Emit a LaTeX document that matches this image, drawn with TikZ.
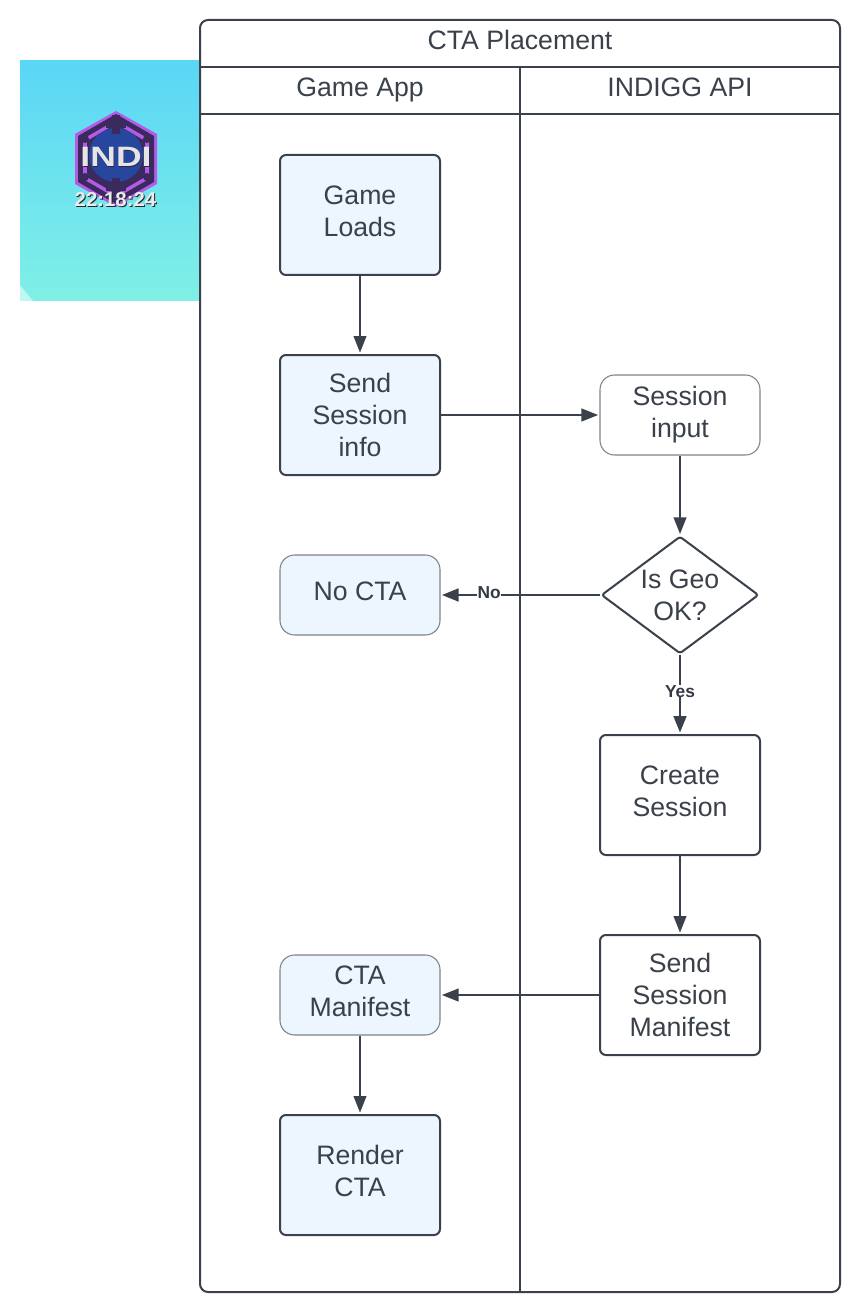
\documentclass[tikz,border=0pt]{standalone}
\usepackage{fontspec}
\setmainfont{Liberation Sans}
\usetikzlibrary{arrows.meta,shapes.geometric}
\definecolor{ink}{HTML}{3A414A}
\definecolor{boxfill}{HTML}{EDF5FF}
\definecolor{bluetop}{HTML}{5AD6F6}
\definecolor{bluebot}{HTML}{80F0E6}
\definecolor{lilac}{HTML}{B45BE8}
\definecolor{hexdark}{HTML}{3A2A5E}
\definecolor{coreblue}{HTML}{27479F}
\tikzset{
  every node/.style={font=\fontsize{20}{24}\selectfont,text=ink,align=center},
  every label/.style={inner sep=0pt},
  lane/.style={draw=ink,line width=1.5pt},
  heading/.style={anchor=base,inner sep=0pt},
  thickbox/.style={draw=ink,line width=1.5pt,rounded corners=4.5pt,minimum width=120pt,minimum height=90pt,inner sep=0pt},
  bluebox/.style={thickbox,fill=boxfill},
  softbox/.style={draw=ink!65,line width=0.8pt,rounded corners=11pt,minimum width=120pt,minimum height=60pt,inner sep=0pt},
  softblue/.style={softbox,fill=boxfill},
  decision/.style={diamond,draw=ink,line width=1.5pt,aspect=1.36,minimum width=118pt,minimum height=88pt,inner sep=0pt,rounded corners=2pt,fill=white},
  flow/.style={draw=ink,line width=1.5pt,shorten >=1pt,-{Triangle[length=12.5pt,width=9.5pt]}},
  flowheavy/.style={draw=ink,line width=2pt,shorten >=1pt,-{Triangle[length=12.5pt,width=9.5pt]}},
  edgelabel/.style={font=\fontsize{13}{15}\selectfont\bfseries,text=ink!90!black,inner sep=0.2pt},
}
\begin{document}
\begin{tikzpicture}[x=0.75pt,y=-0.75pt]
\useasboundingbox (0,0) rectangle (860,1312);
% picture tile
\shade[shading angle=165,top color=bluetop,bottom color=bluebot] (20,60.6) rectangle (200,301);
\fill[white,opacity=.5] (20,285) -- (33,301) -- (20,301) -- cycle;
% logo
\fill[lilac] (116,111) -- (157,134) -- (157,184) -- (116,207) -- (75,184) -- (75,134) -- cycle;
\fill[hexdark] (116,114) -- (154,136) -- (154,182) -- (116,204) -- (78,182) -- (78,136) -- cycle;
\fill[lilac] (116,120) -- (149,139) -- (149,179) -- (116,198) -- (83,179) -- (83,139) -- cycle;
\fill[hexdark] (116,124) -- (145,141) -- (145,177) -- (116,194) -- (87,177) -- (87,141) -- cycle;
\fill[coreblue] (116,155) circle (27);
\foreach \cx/\cy in {85/139,147/139,85/177,147/177}{\fill[hexdark] (\cx,\cy) circle (4);}
\fill[hexdark] (112,115) rectangle (120,134);
\fill[hexdark] (106,121) rectangle (126,128);
\fill[hexdark] (112,178) rectangle (120,197);
\fill[hexdark] (106,184) rectangle (126,191);
\node[font=\fontsize{21}{21}\selectfont\bfseries,text=hexdark!80!black,inner sep=0pt,xscale=1.27] (logoshadow) at (116.6,157.8) {INDI};
\node[font=\fontsize{21}{21}\selectfont\bfseries,text=white!90!black,inner sep=0pt,xscale=1.27] (logo) at (116,157) {INDI};
\node[font=\fontsize{15}{15}\selectfont\bfseries,text=ink!60!black,inner sep=0pt,xscale=1.02] (stampshadow) at (116.5,201) {22:18:24};
\node[font=\fontsize{15}{15}\selectfont\bfseries,text=white!92!black,inner sep=0pt,xscale=1.02] (stamp) at (115.5,199.5) {22:18:24};
% swimlanes
\draw[lane,rounded corners=6pt,fill=white] (200,20) rectangle (840,1292);
\draw[lane] (200,67) -- (840,67);
\draw[lane] (200,114) -- (840,114);
\draw[lane] (520,67) -- (520,1292);
\node[heading] (title) at (520,50) {CTA Placement};
\node[heading] (laneA) at (360,97) {Game App};
\node[heading] (laneB) at (680,97) {INDIGG API};
% nodes
\node[bluebox,label={[yshift=3pt]center:Game\\Loads}] (load) at (360,215) {};
\node[bluebox] (send) at (360,415) {Send\\Session\\info};
\node[softbox] (input) at (680,415) {Session\\input};
\node[decision,label={[yshift=0pt]center:Is Geo\\OK?}] (geo) at (680,595) {};
\node[softblue,label={[yshift=3pt]center:No CTA}] (nocta) at (360,595) {};
\node[thickbox,label={[yshift=3pt]center:Create\\Session}] (create) at (680,795) {};
\node[thickbox] (manifest) at (680,995) {Send\\Session\\Manifest};
\node[softblue,label={[yshift=3pt]center:CTA\\Manifest}] (cta) at (360,995) {};
\node[bluebox,label={[yshift=3pt]center:Render\\CTA}] (render) at (360,1175) {};
% connectors
\draw[flow] (load) -- (send);
\draw[flow] (send) -- (input);
\draw[flow] (input) -- (geo);
\draw[flowheavy] (geo) -- (nocta) node[edgelabel,fill=white,pos=.695,yshift=1.5pt] (nolabel) {No};
\draw[flowheavy] (geo) -- (create) node[edgelabel,fill=white,pos=.46] (yeslabel) {Yes};
\draw[flow] (create) -- (manifest);
\draw[flow] (manifest) -- (cta);
\draw[flow] (cta) -- (render);
\end{tikzpicture}
\end{document}
